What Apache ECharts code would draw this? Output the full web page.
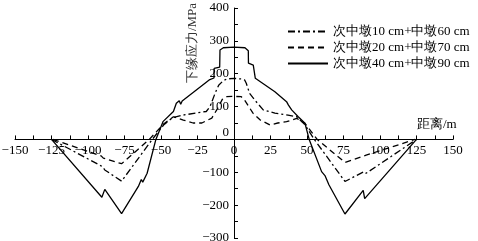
<!DOCTYPE html>
<html><head><meta charset="utf-8">
<script src="https://cdn.jsdelivr.net/npm/echarts@6/dist/echarts.min.js"></script>
<style>html,body{margin:0;padding:0;background:#fff}#c{width:478px;height:241px}</style>
</head><body><div id="c"></div>
<script>
const seriesNames = ['次中墩10 cm+中墩60 cm','次中墩20 cm+中墩70 cm','次中墩40 cm+中墩90 cm'];
const dashdot10_60 = [[-125,0],[-90,-83],[-88.5,-93],[-77,-127],[-56,0],[-48,45],[-42,66],[-35,74],[-19,85],[-16.4,100],[-13,140],[-10.5,165],[-7.5,178],[-5,184],[0,186],[5,184],[7.3,181],[8.4,171],[10.7,140],[14.6,118],[20,90],[28,80],[37,74],[43,69],[48.5,45],[55,0],[76,-128],[89,-98],[90.5,-103],[125,0]];
const dashed20_70 = [[-124,0],[-91,-50],[-89.5,-57],[-77,-74],[-58,0],[-48,48],[-41.5,69],[-34.7,59],[-28,50],[-22,50],[-15.2,65],[-11,96],[-8,122],[-5,130],[0,131],[5,130],[7.5,118],[13,80],[18,59],[24.6,44],[30,50],[36,54],[43,64],[48.6,49],[57,0],[76,-70],[90.5,-48],[91.5,-54],[124,0]];
const solid40_90 = [[-125,0],[-90.5,-176],[-88.5,-152],[-77,-226],[-65.5,-143],[-63.5,-122],[-62.5,-130],[-59.5,-103],[-53.5,0],[-48.5,55],[-41.5,85],[-39.5,110],[-38.5,104],[-37.5,118],[-36.5,107],[-35.5,117],[-17,181],[-13.7,187],[-13.6,216],[-9.8,220],[-9.6,272],[-7.3,279],[0,281],[7.5,279],[9.8,270],[9.9,232],[13.2,226],[14.6,186],[28,145],[36,115],[37.2,105],[38.4,110],[39.5,90],[44,69],[48.6,49],[51.5,0],[60,-98],[61,-93],[62.3,-110],[63.5,-105],[65,-138],[76,-227],[88.5,-155],[89.5,-180],[125,0]];
const xTicks = {min:-150, max:150, interval:25};
const yTicks = {min:-300, max:400, interval:100};
const xName = '距离/m';
const yName = '下缘应力/MPa';

const FONT = 'Liberation Serif, Times New Roman, serif';
const W = 478, H = 241;
const G = {left:15, right:25, top:8, bottom:3};
const gw = W - G.left - G.right, gh = H - G.top - G.bottom;
// move axes so that they cross at the origin (labels follow the lines)
const yAxisOffset = -gw * (0 - xTicks.min) / (xTicks.max - xTicks.min);
const xAxisOffset = -gh * (0 - yTicks.min) / (yTicks.max - yTicks.min);
const minus = v => String(v).replace('-', '\u2212');
const chart = echarts.init(document.getElementById('c'));
const lineBase = {type:'line', symbol:'none', smooth:false, animation:false};
chart.setOption({
  animation:false,
  grid:Object.assign({containLabel:false, outerBoundsMode:'none'}, G),
  legend:{
    orient:'vertical', left:287, top:25, padding:0, itemWidth:40, itemHeight:14, itemGap:3,
    itemStyle:{opacity:0, borderWidth:0, color:'transparent'},
    textStyle:{fontFamily:FONT, fontSize:13, color:'#000'},
    data:seriesNames
  },
  xAxis:{
    type:'value', min:xTicks.min, max:xTicks.max, interval:xTicks.interval,
    position:'bottom', offset:xAxisOffset,
    axisLine:{onZero:false, lineStyle:{color:'#000', width:1}},
    axisTick:{inside:true, length:4, lineStyle:{color:'#000'}},
    minorTick:{show:true, splitNumber:2, length:4, lineStyle:{color:'#000'}},
    splitLine:{show:false},
    axisLabel:{fontFamily:FONT, fontSize:13, color:'#000', margin:5, formatter:minus}
  },
  yAxis:{
    type:'value', min:yTicks.min, max:yTicks.max, interval:yTicks.interval,
    position:'left', offset:yAxisOffset,
    axisLine:{onZero:false, lineStyle:{color:'#000', width:1}},
    axisTick:{inside:true, length:4, lineStyle:{color:'#000'}},
    minorTick:{show:true, splitNumber:2, length:4, lineStyle:{color:'#000'}},
    splitLine:{show:false},
    axisLabel:{fontFamily:FONT, fontSize:13, color:'#000', margin:5,
      formatter: v => v === 0 ? '{z|0}' : minus(v),
      rich:{z:{fontFamily:FONT, fontSize:13, color:'#000', padding:[0,0,14,0]}}}
  },
  graphic:[
    {type:'text', x:193, y:43, rotation:Math.PI/2,
     style:{text:yName, align:'center', verticalAlign:'middle', font:'13px '+FONT, fill:'#333'}},
    {type:'text', x:417, y:125,
     style:{text:xName, align:'left', verticalAlign:'middle', font:'13px '+FONT, fill:'#000'}}
  ],
  series:[
    Object.assign({}, lineBase, {name:seriesNames[0], data:dashdot10_60,
      lineStyle:{color:'#000', width:1.3, type:[7,3,2,3]}, itemStyle:{color:'#000'}}),
    Object.assign({}, lineBase, {name:seriesNames[1], data:dashed20_70,
      lineStyle:{color:'#000', width:1.3, type:[6,4]}, itemStyle:{color:'#000'}}),
    Object.assign({}, lineBase, {name:seriesNames[2], data:solid40_90,
      lineStyle:{color:'#000', width:1.3, type:'solid'}, itemStyle:{color:'#000'}})
  ]
});
</script></body></html>
